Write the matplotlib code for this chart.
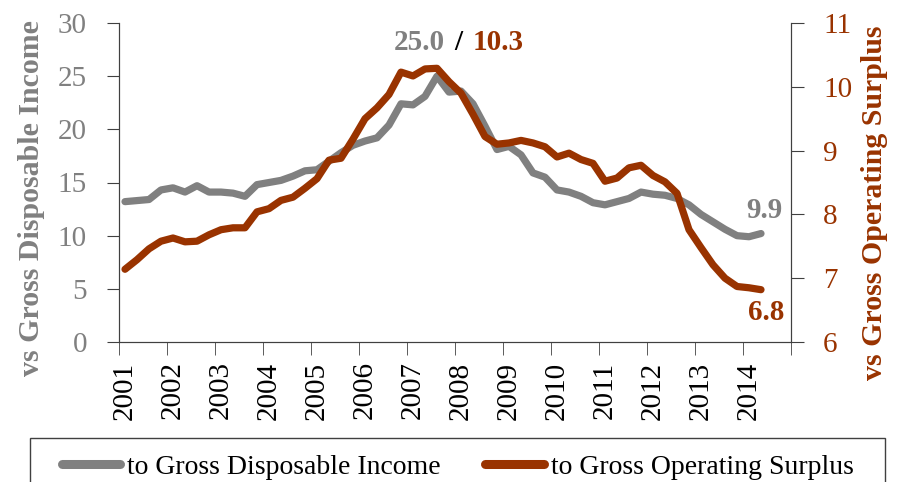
import matplotlib
matplotlib.use('Agg')
import matplotlib.pyplot as plt
from matplotlib.patches import Rectangle
from matplotlib.ticker import FixedLocator, NullFormatter

# Quarterly ratios, 2001 Q1 .. 2014 Q2
gdi = [13.2, 13.3, 13.4, 14.3, 14.5, 14.1, 14.7, 14.1, 14.1, 14.0, 13.7, 14.8,
       15.0, 15.2, 15.6, 16.1, 16.2, 17.0, 17.8, 18.5, 18.9, 19.2, 20.4, 22.4,
       22.3, 23.1, 25.0, 23.5, 23.6, 22.4, 20.3, 18.1, 18.4, 17.6, 15.9, 15.5,
       14.3, 14.1, 13.7, 13.1, 12.9, 13.2, 13.5, 14.1, 13.9, 13.8, 13.5, 12.9,
       12.0, 11.3, 10.6, 10.0, 9.9, 10.2]
gos = [7.14, 7.29, 7.46, 7.58, 7.63, 7.57, 7.58, 7.68, 7.76, 7.79, 7.79, 8.04,
       8.09, 8.22, 8.27, 8.41, 8.56, 8.85, 8.88, 9.18, 9.50, 9.67, 9.88, 10.23,
       10.17, 10.28, 10.29, 10.08, 9.90, 9.57, 9.22, 9.10, 9.12, 9.16, 9.12, 9.06,
       8.90, 8.96, 8.86, 8.80, 8.52, 8.57, 8.73, 8.77, 8.61, 8.51, 8.33, 7.76,
       7.48, 7.21, 7.00, 6.87, 6.85, 6.82]
years = list(range(2001, 2015))
x = [2001 + (i + 0.5) / 4 for i in range(len(gdi))]

GRAY = '#808080'
RUST = '#993300'
plt.rcParams['font.family'] = ['Liberation Serif', 'DejaVu Serif']

fig = plt.figure(figsize=(9.03, 4.82), dpi=100)
ax = fig.add_axes([119/903, 1-342/482, 672/903, 319/482])
ax2 = ax.twinx()

ax.plot(x, gdi, color=GRAY, lw=5.2, solid_capstyle='round', solid_joinstyle='round',
        label='to Gross Disposable Income')
ax2.plot(x, gos, color=RUST, lw=5.2, solid_capstyle='round', solid_joinstyle='round',
         label='to Gross Operating Surplus')

ax.set_xlim(2001, 2015)
ax.set_ylim(0, 30)
ax2.set_ylim(6, 11)
ax.set_yticks(range(0, 31, 5))
ax2.set_yticks(range(6, 12))

# year labels sit in the middle of the first quarter, tick marks on the year
ax.xaxis.set_major_locator(FixedLocator([y + 0.125 for y in years]))
ax.set_xticklabels([str(y) for y in years], rotation=90)
ax.xaxis.set_minor_locator(FixedLocator(range(2001, 2016)))
ax.xaxis.set_minor_formatter(NullFormatter())
ax.tick_params(axis='x', which='major', length=0, pad=14, labelsize=21, labelcolor='black')
ax.tick_params(axis='x', which='minor', length=9, direction='out', color='#404040')
ax.tick_params(axis='y', length=9, direction='out', pad=14, labelsize=21,
               labelcolor=GRAY, color='#404040')
ax2.tick_params(axis='y', length=9, direction='out', pad=14, labelsize=21,
                labelcolor=RUST, color='#404040')

for a in (ax, ax2):
    a.spines['top'].set_visible(False)
    for s in ('left', 'right', 'bottom'):
        a.spines[s].set_color('#404040')

fig.text(32/903, 1-198/482, 'vs Gross Disposable Income', rotation=90, ha='center',
         va='center', fontsize=21.5, fontweight='bold', color=GRAY)
fig.text(875/903, 1-203/482, 'vs Gross Operating Surplus', rotation=90, ha='center',
         va='center', fontsize=21.5, fontweight='bold', color=RUST)

# peak / latest labels
ax.text(2007.79, 28.2, f'{max(gdi):.1f}', ha='right', va='center', fontsize=21,
        fontweight='bold', color=GRAY)
ax.text(2008.06, 28.2, '/', ha='center', va='center', fontsize=21,
        fontweight='bold', color='black')
ax.text(2008.37, 28.2, f'{max(gos):.1f}', ha='left', va='center', fontsize=21,
        fontweight='bold', color=RUST)
ax.text(2014.44, 12.4, f'{min(gdi):.1f}', ha='center', va='center', fontsize=21,
        fontweight='bold', color=GRAY)
ax2.text(2014.48, 6.47, f'{gos[-1]:.1f}', ha='center', va='center', fontsize=21,
         fontweight='bold', color=RUST)

# legend box runs off the bottom edge, like the original
fig.patches.append(Rectangle((30/903, -0.1), 855/903, 0.1 + 1 - 438/482,
                             transform=fig.transFigure, fill=False,
                             edgecolor='#404040', lw=1.0))
h1, l1 = ax.get_legend_handles_labels()
h2, l2 = ax2.get_legend_handles_labels()
leg = fig.legend(h1 + h2, l1 + l2, loc='center left', ncol=2,
                 bbox_to_anchor=(62/903, 1 - 467/482), borderaxespad=0, borderpad=0,
                 fontsize=20, frameon=False, handlelength=2.1,
                 handletextpad=0.25, columnspacing=1.6)
for line in leg.get_lines():
    line.set_linewidth(6.5)
    line.set_solid_capstyle('round')

fig.savefig('out.png', dpi=100)
